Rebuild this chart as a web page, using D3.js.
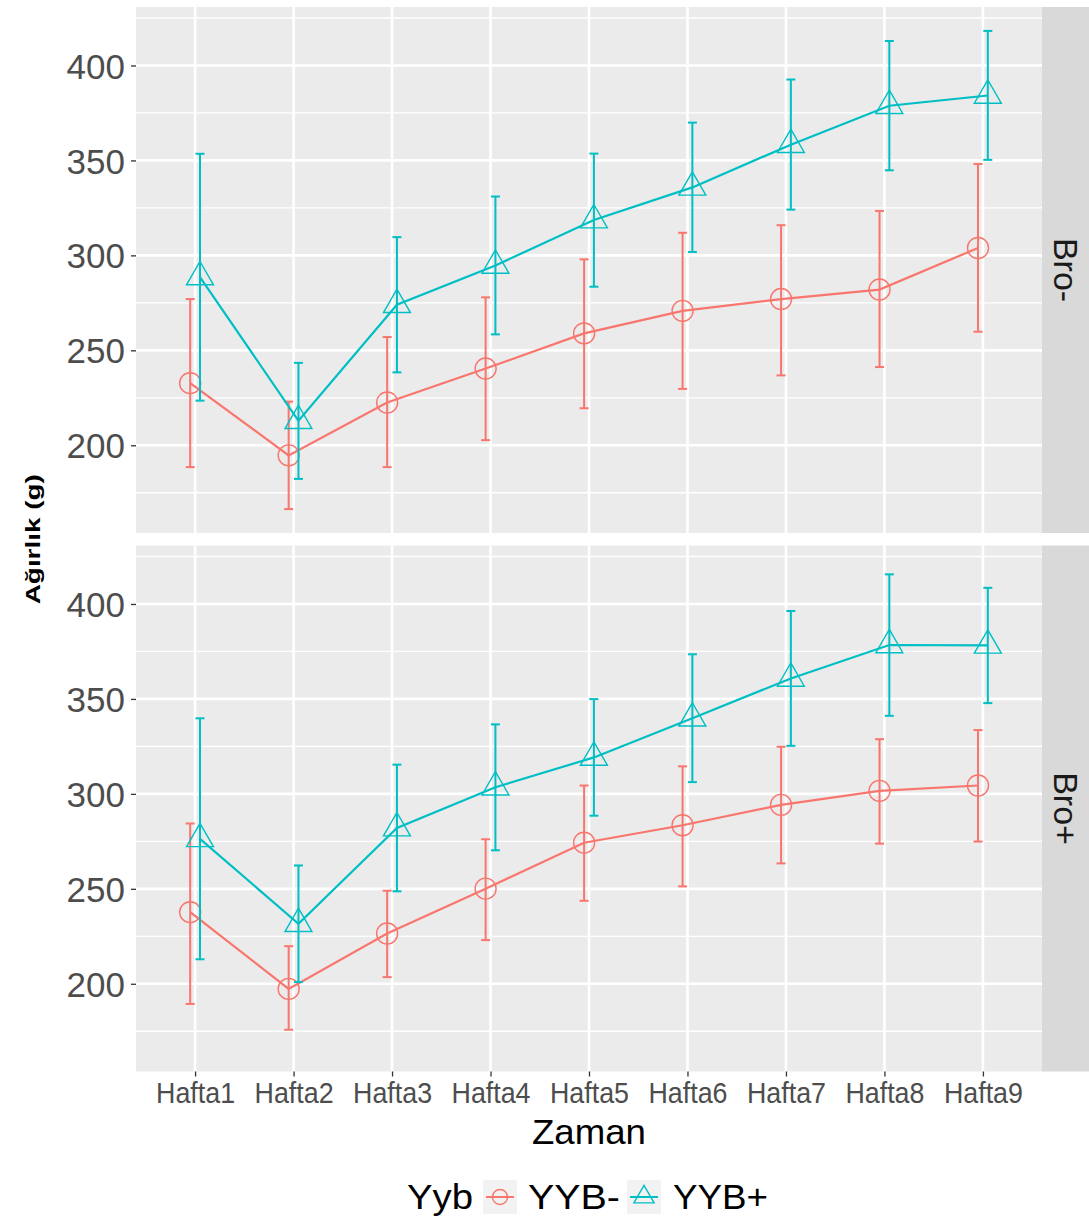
<!DOCTYPE html>
<html>
<head>
<meta charset="utf-8">
<script src="https://cdn.jsdelivr.net/npm/d3@7"></script>
<style>
  html, body { margin: 0; padding: 0; background: #ffffff; }
  svg { display: block; }
  text { font-family: "Liberation Sans", Arial, Helvetica, sans-serif; }
</style>
</head>
<body>
<svg id="chart" width="1089" height="1225"></svg>
<script>
// ---------------- data ----------------
const weeks = ["Hafta1","Hafta2","Hafta3","Hafta4","Hafta5","Hafta6","Hafta7","Hafta8","Hafta9"];
const facets = ["Bro-","Bro+"];
const groups = ["YYB-","YYB+"];
const yTicks = [200, 250, 300, 350, 400];
const yMinorTicks = [175, 225, 275, 325, 375, 425];

// Bro- panel
const broMinusYybMinusMean = [232.7, 194.7, 222.5, 240.4, 258.9, 270.8, 277.0, 282.0, 303.9];
const broMinusYybMinusLow  = [188.5, 166.4, 188.5, 202.7, 219.5, 229.7, 236.8, 241.2, 259.8];
const broMinusYybMinusHigh = [277.0, 223.0, 257.0, 277.9, 297.9, 311.9, 315.9, 323.4, 348.1];
const broMinusYybPlusMean  = [288.6, 212.9, 274.0, 294.7, 318.6, 335.8, 358.3, 378.8, 384.2];
const broMinusYybPlusLow   = [223.5, 182.3, 238.4, 258.4, 283.5, 301.8, 324.1, 344.8, 350.3];
const broMinusYybPlusHigh  = [353.5, 243.4, 309.6, 331.0, 353.6, 369.9, 392.6, 412.9, 418.2];

// Bro+ panel
const broPlusYybMinusMean = [237.7, 197.3, 226.5, 250.1, 274.3, 283.5, 294.2, 301.6, 304.4];
const broPlusYybMinusLow  = [189.4, 175.8, 203.5, 223.0, 243.7, 251.3, 263.4, 273.8, 274.9];
const broPlusYybMinusHigh = [284.4, 219.8, 249.0, 276.1, 304.4, 314.5, 324.8, 328.8, 333.6];
const broPlusYybPlusMean  = [276.3, 231.6, 282.0, 303.5, 319.2, 339.8, 360.8, 378.4, 378.2];
const broPlusYybPlusLow   = [212.9, 200.9, 248.7, 270.3, 288.5, 306.2, 325.3, 341.1, 347.8];
const broPlusYybPlusHigh  = [339.8, 262.3, 315.4, 336.6, 349.9, 373.5, 396.3, 415.6, 408.5];

// ---------------- build table ----------------
const series = [
  {facet: "Bro-", group: "YYB-", mean: broMinusYybMinusMean, low: broMinusYybMinusLow, high: broMinusYybMinusHigh},
  {facet: "Bro-", group: "YYB+", mean: broMinusYybPlusMean,  low: broMinusYybPlusLow,  high: broMinusYybPlusHigh},
  {facet: "Bro+", group: "YYB-", mean: broPlusYybMinusMean,  low: broPlusYybMinusLow,  high: broPlusYybMinusHigh},
  {facet: "Bro+", group: "YYB+", mean: broPlusYybPlusMean,   low: broPlusYybPlusLow,   high: broPlusYybPlusHigh}
].map(s => ({...s, values: weeks.map((w, i) => ({week: w, mean: s.mean[i], low: s.low[i], high: s.high[i]}))}));

// ---------------- layout ----------------
const svg = d3.select("#chart");
const panelLeft = 136, panelRight = 1042;
const panelTops = [7, 545.5];
const panelH = 526;
const stripW = 50;
const colors = {"YYB-": "#F8766D", "YYB+": "#00BFC4"};
const dodge = {"YYB-": -4.9, "YYB+": 4.9};

const allLow = d3.min(series, s => d3.min(s.low));
const allHigh = d3.max(series, s => d3.max(s.high));
const pad = (allHigh - allLow) * 0.05;

const x = d3.scalePoint().domain(weeks).range([panelLeft, panelRight]).padding(0.6);

function trianglePath(r) {
  // R pch=2 geometry, centred on the point
  const rr = 1.555 * r, xc = 1.347 * r, yc = 0.778 * r;
  return `M0,${-rr}L${xc},${yc}L${-xc},${yc}Z`;
}

facets.forEach((f, fi) => {
  const top = panelTops[fi];
  const y = d3.scaleLinear().domain([allLow - pad, allHigh + pad]).range([top + panelH, top]);
  const g = svg.append("g");

  // panel background
  g.append("rect").attr("x", panelLeft).attr("y", top)
    .attr("width", panelRight - panelLeft).attr("height", panelH).attr("fill", "#EBEBEB");

  // minor grid
  g.selectAll(".minor").data(yMinorTicks.filter(v => y(v) >= top && y(v) <= top + panelH)).enter()
    .append("line").attr("x1", panelLeft).attr("x2", panelRight)
    .attr("y1", d => y(d)).attr("y2", d => y(d))
    .attr("stroke", "#FFFFFF").attr("stroke-width", 1.3);
  // major grid
  g.selectAll(".major").data(yTicks).enter()
    .append("line").attr("x1", panelLeft).attr("x2", panelRight)
    .attr("y1", d => y(d)).attr("y2", d => y(d))
    .attr("stroke", "#FFFFFF").attr("stroke-width", 2.6);
  g.selectAll(".vmajor").data(weeks).enter()
    .append("line").attr("y1", top).attr("y2", top + panelH)
    .attr("x1", d => x(d)).attr("x2", d => x(d))
    .attr("stroke", "#FFFFFF").attr("stroke-width", 2.6);

  // strip
  g.append("rect").attr("x", panelRight).attr("y", top)
    .attr("width", stripW).attr("height", panelH).attr("fill", "#D9D9D9");
  g.append("text")
    .attr("transform", `translate(${panelRight + 12},${top + panelH / 2}) rotate(90)`)
    .attr("text-anchor", "middle")
    .attr("font-size", 34).attr("fill", "#1A1A1A")
    .text(f);

  // y axis
  const yAxis = d3.axisLeft(y).tickValues(yTicks).tickSize(5).tickPadding(6).tickFormat(d3.format("d"));
  const ya = g.append("g").attr("transform", `translate(${panelLeft},0)`).call(yAxis);
  ya.select(".domain").remove();
  ya.selectAll(".tick line").attr("stroke", "#333333").attr("stroke-width", 1.3);
  ya.selectAll(".tick text").attr("font-size", 35).attr("fill", "#4D4D4D")
    .attr("font-family", "'Liberation Sans', Arial, sans-serif").attr("dy", "0.36em");

  // data marks
  const facetSeries = series.filter(s => s.facet === f);
  const line = d3.line().x(d => d.xx).y(d => y(d.mean));

  facetSeries.forEach(s => {
    const col = colors[s.group];
    const pts = s.values.map(v => ({...v, xx: x(v.week) + dodge[s.group]}));
    // line
    g.append("path").datum(pts).attr("d", line)
      .attr("fill", "none").attr("stroke", col).attr("stroke-width", 2.2);
    // error bars
    const eb = g.append("g");
    eb.selectAll(".v").data(pts).enter().append("line")
      .attr("x1", d => d.xx).attr("x2", d => d.xx)
      .attr("y1", d => y(d.low)).attr("y2", d => y(d.high))
      .attr("stroke", col).attr("stroke-width", 2);
    eb.selectAll(".ct").data(pts).enter().append("line")
      .attr("x1", d => d.xx - 4.5).attr("x2", d => d.xx + 4.5)
      .attr("y1", d => y(d.high)).attr("y2", d => y(d.high))
      .attr("stroke", col).attr("stroke-width", 2);
    eb.selectAll(".cb").data(pts).enter().append("line")
      .attr("x1", d => d.xx - 4.5).attr("x2", d => d.xx + 4.5)
      .attr("y1", d => y(d.low)).attr("y2", d => y(d.low))
      .attr("stroke", col).attr("stroke-width", 2);
    // points
    if (s.group === "YYB-") {
      g.selectAll(null).data(pts).enter().append("circle")
        .attr("cx", d => d.xx).attr("cy", d => y(d.mean)).attr("r", 10.5)
        .attr("fill", "none").attr("stroke", col).attr("stroke-width", 1.4);
    } else {
      g.selectAll(null).data(pts).enter().append("path")
        .attr("transform", d => `translate(${d.xx},${y(d.mean)})`)
        .attr("d", trianglePath(10))
        .attr("fill", "none").attr("stroke", col).attr("stroke-width", 1.4);
    }
  });
});

// x axis (bottom panel)
const xAxis = d3.axisBottom(x).tickSize(5).tickPadding(5);
const xa = svg.append("g").attr("transform", `translate(0,${panelTops[1] + panelH})`).call(xAxis);
xa.select(".domain").remove();
xa.selectAll(".tick line").attr("stroke", "#333333").attr("stroke-width", 1.3);
xa.selectAll(".tick text").attr("font-size", 30).attr("fill", "#4D4D4D")
  .attr("font-family", "'Liberation Sans', Arial, sans-serif")
  .attr("textLength", 79).attr("lengthAdjust", "spacingAndGlyphs");

// axis titles
svg.append("text").attr("x", (panelLeft + panelRight) / 2).attr("y", 1144)
  .attr("text-anchor", "middle").attr("font-size", 35).attr("fill", "#000000")
  .attr("textLength", 114).attr("lengthAdjust", "spacingAndGlyphs")
  .text("Zaman");
svg.append("text")
  .attr("transform", `translate(40,${(panelTops[0] + panelTops[1] + panelH) / 2}) rotate(-90)`)
  .attr("text-anchor", "middle").attr("font-size", 20).attr("font-weight", "bold").attr("fill", "#000000")
  .attr("textLength", 130).attr("lengthAdjust", "spacingAndGlyphs")
  .text("Ağırlık (g)");

// legend
const leg = svg.append("g");
const legBase = 1209;
leg.append("text").attr("x", 407).attr("y", legBase).attr("font-size", 35).attr("fill", "#000000")
  .attr("textLength", 66).attr("lengthAdjust", "spacingAndGlyphs").text("Yyb");
const legItems = [
  {group: "YYB-", keyX: 483, textX: 528, textLen: 92},
  {group: "YYB+", keyX: 627, textX: 673, textLen: 95}
];
legItems.forEach(it => {
  const col = colors[it.group];
  const cx = it.keyX + 17, cy = 1197;
  leg.append("rect").attr("x", it.keyX).attr("y", cy - 17).attr("width", 34).attr("height", 34).attr("fill", "#F2F2F2");
  leg.append("line").attr("x1", it.keyX + 3).attr("x2", it.keyX + 31).attr("y1", cy).attr("y2", cy)
    .attr("stroke", col).attr("stroke-width", 2);
  leg.append("line").attr("x1", cx).attr("x2", cx).attr("y1", cy - 8).attr("y2", cy + 8)
    .attr("stroke", col).attr("stroke-width", 0).attr("opacity", 0);
  if (it.group === "YYB-") {
    leg.append("circle").attr("cx", cx).attr("cy", cy).attr("r", 7.5)
      .attr("fill", "none").attr("stroke", col).attr("stroke-width", 1.4);
  } else {
    leg.append("path").attr("transform", `translate(${cx},${cy})`).attr("d", trianglePath(7.5))
      .attr("fill", "none").attr("stroke", col).attr("stroke-width", 1.4);
  }
  leg.append("text").attr("x", it.textX).attr("y", legBase).attr("font-size", 35).attr("fill", "#000000")
    .attr("textLength", it.textLen).attr("lengthAdjust", "spacingAndGlyphs").text(it.group);
});
</script>
</body>
</html>
